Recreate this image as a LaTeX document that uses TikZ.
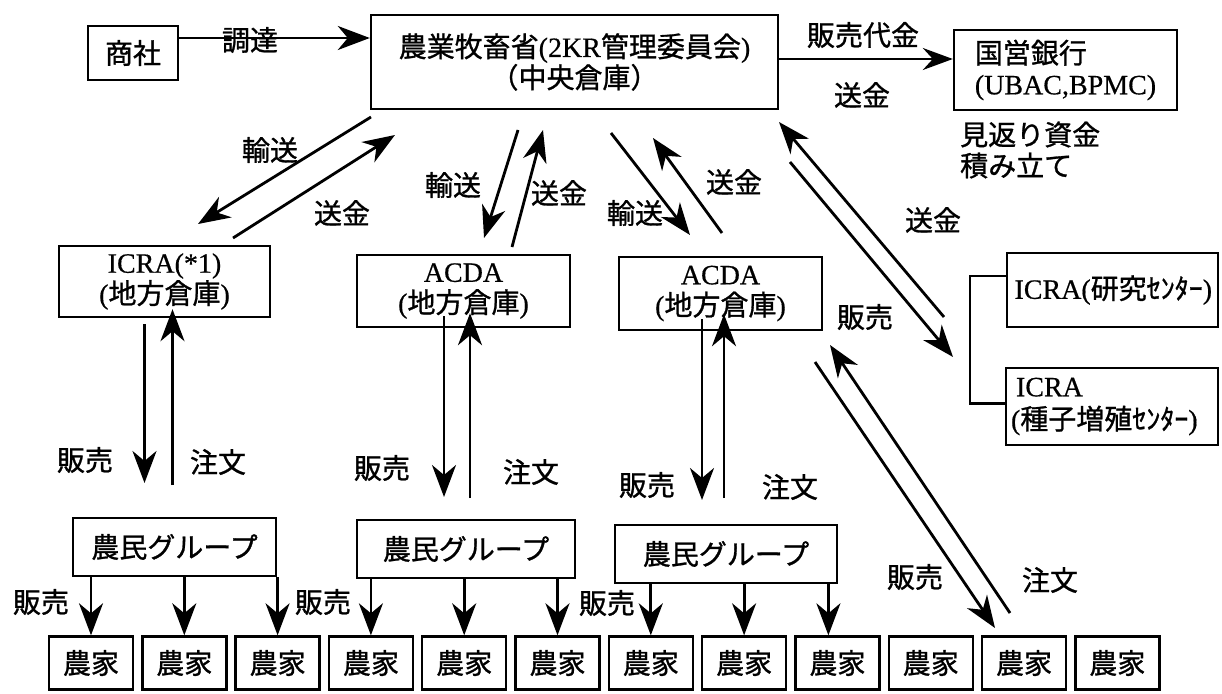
\documentclass[tikz,border=0pt]{standalone}
\usepackage{fontspec}
\setmainfont[FakeBold=0.5]{Liberation Serif}
\newfontfamily\cjk[FakeBold=1]{Noto Sans CJK JP}
\usetikzlibrary{arrows.meta}
\newcommand\dfont{\fontsize{28}{31}\selectfont}
\begin{document}
\begin{tikzpicture}[x=1pt,y=-1pt,
  box/.style={draw,line width=2.4pt,inner sep=0pt,align=center,font=\dfont},
  lab/.style={inner sep=0pt,font=\dfont\cjk},
  arr/.style={line width=2.8pt,-{Stealth[length=32pt,width=24pt,inset=10pt]}},
  thinarr/.style={line width=2.2pt,-{Stealth[length=30pt,width=22pt,inset=10pt]}}]
\fill[white] (0,0) rectangle (1222,693);
\useasboundingbox (0,0) rectangle (1222,693);
% boxes
\node[box,minimum width=90,minimum height=54] (shosha) at (133,53) {\cjk 商社};
\node[box,minimum width=407,minimum height=94] (hq) at (574.5,62) {{\cjk 農業牧畜省}(2KR{\cjk 管理委員会})\\{\cjk （中央倉庫）}};
\node[box,minimum width=223,minimum height=80,align=left] (bank) at (1065.5,70) {{\cjk 国営銀行}\\(UBAC,BPMC)};
\node[lab,anchor=west,align=left] (fund) at (960,150) {見返り資金\\積み立て};
\node[box,minimum width=211,minimum height=71] (icra1) at (164.5,281.5) {ICRA(*1)\\({\cjk 地方倉庫})};
\node[box,minimum width=213,minimum height=72] (acda1) at (463.5,291) {ACDA\\({\cjk 地方倉庫})};
\node[box,minimum width=203,minimum height=73] (acda2) at (720.5,293.5) {ACDA\\({\cjk 地方倉庫})};
\node[box,minimum width=211,minimum height=74,align=left,text width=196] (icraR) at (1112.5,290) {ICRA({\cjk 研究ｾﾝﾀｰ})};
\node[box,minimum width=212,minimum height=77,align=left,text width=202] (icraS) at (1112,406.5) {\hspace*{5pt}ICRA\\[2pt]({\cjk 種子増殖ｾﾝﾀｰ})};
\node[box,minimum width=203,minimum height=58] (g1) at (174.5,547) {\cjk 農民グループ};
\node[box,minimum width=218,minimum height=58] (g2) at (466,549) {\cjk 農民グループ};
\node[box,minimum width=222,minimum height=58] (g3) at (726,554) {\cjk 農民グループ};
\foreach \i in {1,...,12}{
  \pgfmathsetmacro\cx{91+93.3*(\i-1)}
  \node[box,minimum width=84,minimum height=53] (f\i) at (\cx,663) {\cjk 農家};
}
% bracket
\draw[line width=2.4pt] ([yshift=14]icraR.west) -- ++(-36,0) |- ([yshift=3]icraS.west);
% horizontal arrows
\draw[arr] ([yshift=15]shosha.east) -- ([yshift=15]shosha.east -| hq.west);
\draw[thinarr] ([yshift=3]hq.east) -- ([yshift=3]hq.east -| bank.west);
% diagonal arrow end points
\coordinate (a1s) at (371,117); \coordinate (a1e) at (198,224);
\coordinate (a2s) at (233,238); \coordinate (a2e) at (395,135);
\coordinate (a3s) at (518,130); \coordinate (a3e) at (484,238);
\coordinate (a4s) at (512,247); \coordinate (a4e) at (543,130);
\coordinate (a5s) at (611,133); \coordinate (a5e) at (690,235);
\coordinate (a6s) at (722,233); \coordinate (a6e) at (653,138);
\coordinate (a7s) at (944,317); \coordinate (a7e) at (779,122);
\coordinate (a8s) at (790,162); \coordinate (a8e) at (953,357);
\coordinate (a9s) at (815,362); \coordinate (a9e) at (995,628);
\coordinate (a10s) at (1010,613); \coordinate (a10e) at (830,345);
\foreach \k in {1,...,10}{\draw[arr] (a\k s) -- (a\k e);}
% vertical arrows between warehouses and groups
\draw[arr] ([xshift=-20]icra1.south) ++(0,6) -- ([xshift=-20]icra1.south |- 0,483);
\draw[arr] ([xshift=8]icra1.south |- 0,485) -- ([xshift=8,yshift=9]icra1.south);
\draw[arr] ([xshift=-19.5,yshift=12]acda1.south) -- ([xshift=-19.5]acda1.south |- 0,497);
\draw[arr] ([xshift=6.5]acda1.south |- 0,498) -- ([xshift=6.5,yshift=15]acda1.south);
\draw[arr] ([xshift=-18.5,yshift=12]acda2.south) -- ([xshift=-18.5]acda2.south |- 0,500);
\draw[arr] ([xshift=3.5]acda2.south |- 0,498) -- ([xshift=3.5,yshift=17]acda2.south);
% group to farmers
\foreach \g/\f in {g1/f1,g1/f2,g1/f3,g2/f4,g2/f5,g2/f6,g3/f7,g3/f8}{
  \draw[arr] (\g.south -| \f.north) -- (\f.north);
}
\draw[arr] ([xshift=-9]g3.south -| f9.north) -- ([xshift=-9]f9.north);
% labels
\node[lab] (l1) at (250,40) {調達};
\node[lab] (l2) at (863,35) {販売代金};
\node[lab] (l3) at (862,95) {送金};
\node[lab] (l4) at (270,150) {輸送};
\node[lab] (l5) at (342,213) {送金};
\node[lab] (l6) at (453,185) {輸送};
\node[lab] (l7) at (559,193) {送金};
\node[lab] (l8) at (635,213) {輸送};
\node[lab] (l9) at (734,182) {送金};
\node[lab] (l10) at (933,220) {送金};
\node[lab] (l11) at (865,317) {販売};
\node[lab] (l12) at (85,460) {販売};
\node[lab] (l13) at (218,462) {注文};
\node[lab] (l14) at (382,468) {販売};
\node[lab] (l15) at (531,472) {注文};
\node[lab] (l16) at (647,485) {販売};
\node[lab] (l17) at (790,487) {注文};
\node[lab] (l18) at (915,577) {販売};
\node[lab] (l19) at (1050,580) {注文};
\node[lab] (l20) at (41,602) {販売};
\node[lab] (l21) at (323,602) {販売};
\node[lab] (l22) at (607,603) {販売};
\end{tikzpicture}
\end{document}
